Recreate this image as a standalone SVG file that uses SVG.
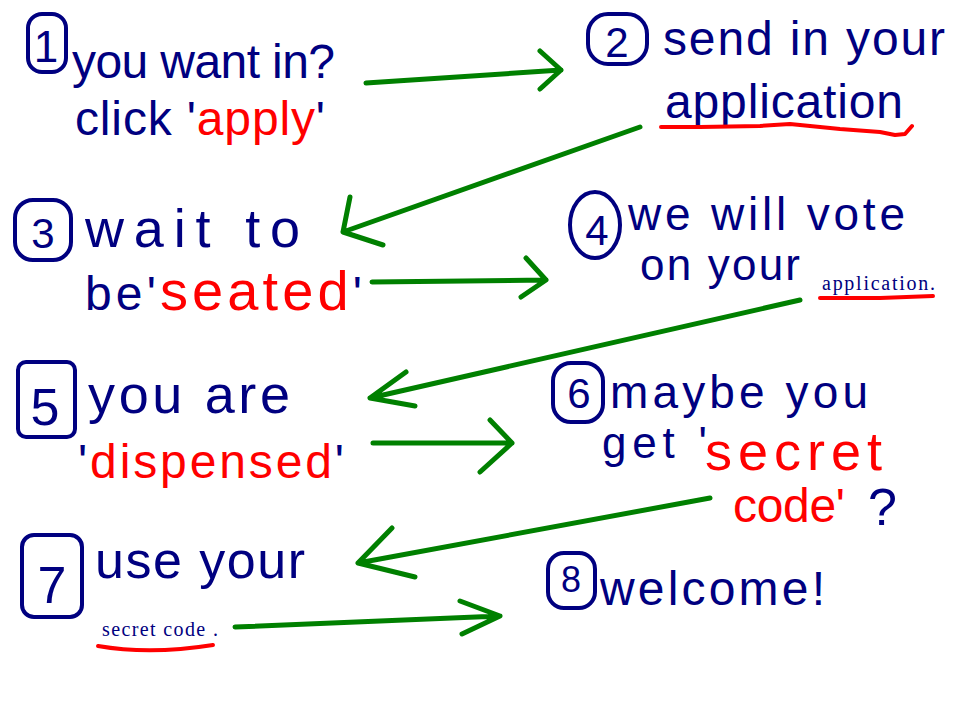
<svg xmlns="http://www.w3.org/2000/svg" width="966" height="712" viewBox="0 0 966 712">
<style>
.h{font-family:"Liberation Sans",Arial,sans-serif;font-size:48px;fill:#000080}
.r{fill:#ff0000}
.n{font-family:"Liberation Sans",Arial,sans-serif;font-size:42px;fill:#000080;text-anchor:middle}
.s{font-family:"Liberation Serif","Times New Roman",serif;font-size:20px;fill:#000080}
.ring{fill:none;stroke:#000080;stroke-width:4;stroke-linejoin:round}
.ul{fill:none;stroke:#ff0000;stroke-width:4;stroke-linecap:round;stroke-linejoin:round}
.arr{fill:none;stroke:#008000;stroke-width:5;stroke-linecap:round;stroke-linejoin:round}
</style>
<rect width="966" height="712" fill="#ffffff"/>
<g id="step1">
<rect class="ring" x="28" y="14" width="38" height="58" rx="14"/>
<text class="n" x="46" y="62" style="font-size:44px">1</text>
<text class="h" x="72" y="78" textLength="263" lengthAdjust="spacing">you want in?</text>
<text class="h" x="75" y="135" textLength="250" lengthAdjust="spacing">click '<tspan class="r">apply</tspan>'</text>
</g>
<g id="step2">
<rect class="ring" x="588" y="14" width="59" height="50" rx="20"/>
<text class="n" x="617" y="57">2</text>
<text class="h" x="663" y="55" textLength="282" lengthAdjust="spacing">send in your</text>
<text class="h" x="665" y="118" textLength="238" lengthAdjust="spacing">application</text>
<path class="ul" d="M661 127 L700 127 L760 126 L790 124 L840 129 L880 132 L895 135 L905 134 L912 126"/>
</g>
<g id="step3">
<rect class="ring" x="15" y="200" width="56" height="60" rx="18"/>
<text class="n" x="43" y="248">3</text>
<text class="h" x="85" y="247" style="font-size:54px" textLength="215" lengthAdjust="spacing">wait to</text>
<text class="h" x="85" y="310" textLength="277" lengthAdjust="spacing">be'<tspan class="r" style="font-size:56px">seated</tspan>'</text>
</g>
<g id="step4">
<ellipse class="ring" cx="595" cy="225" rx="25" ry="33"/>
<text class="n" x="597" y="245">4</text>
<text class="h" x="628" y="230" style="font-size:46px" textLength="277" lengthAdjust="spacing">we will vote</text>
<text class="h" x="640" y="280" style="font-size:44px" textLength="160" lengthAdjust="spacing">on your</text>
<text class="s" x="822" y="290" textLength="113" lengthAdjust="spacing">application.</text>
<path class="ul" d="M820 298 L880 298 L933 296"/>
</g>
<g id="step5">
<rect class="ring" x="18" y="362" width="57" height="75" rx="8"/>
<text class="n" x="45" y="425" style="font-size:52px">5</text>
<text class="h" x="88" y="413" style="font-size:54px" textLength="202" lengthAdjust="spacing">you are</text>
<text class="h" x="78" y="478" textLength="266" lengthAdjust="spacing">'<tspan class="r">dispensed</tspan>'</text>
</g>
<g id="step6">
<rect class="ring" x="553" y="363" width="50" height="59" rx="18"/>
<text class="n" x="579" y="408">6</text>
<text class="h" x="610" y="408" style="font-size:46px" textLength="258" lengthAdjust="spacing">maybe you</text>
<text class="h" x="602" y="458" style="font-size:44px" textLength="105" lengthAdjust="spacing">get '</text>
<text class="h r" x="705" y="470" style="font-size:54px" textLength="177" lengthAdjust="spacing">secret</text>
<text class="h r" x="733" y="522" textLength="112" lengthAdjust="spacing">code'</text>
<text class="h" x="868" y="525" style="font-size:52px">?</text>
</g>
<g id="step7">
<rect class="ring" x="22" y="535" width="60" height="82" rx="12"/>
<text class="n" x="52" y="603" style="font-size:52px">7</text>
<text class="h" x="95" y="578" style="font-size:52px" textLength="210" lengthAdjust="spacing">use your</text>
<text class="s" x="102" y="636" textLength="116" lengthAdjust="spacing">secret code .</text>
<path class="ul" d="M98 646 Q150 655 213 645"/>
</g>
<g id="step8">
<rect class="ring" x="548" y="553" width="47" height="55" rx="16"/>
<text class="n" x="571" y="592" style="font-size:36px">8</text>
<text class="h" x="600" y="605" textLength="225" lengthAdjust="spacing">welcome!</text>
</g>
<g id="connectors">
<path class="arr" d="M366 83 L561 70 M540 51 L561 70 L540 89"/>
<path class="arr" d="M640 127 L343 232 M350 197 L343 232 L383 245"/>
<path class="arr" d="M372 282 L546 280 M526 258 L546 280 L521 297"/>
<path class="arr" d="M800 300 L370 398 M406 372 L370 398 L415 406"/>
<path class="arr" d="M373 443 L512 443 M490 420 L512 443 L480 472"/>
<path class="arr" d="M710 498 L358 563 M392 528 L358 563 L415 577"/>
<path class="arr" d="M235 627 L500 616 M460 601 L500 616 L462 634"/>
</g>
</svg>
